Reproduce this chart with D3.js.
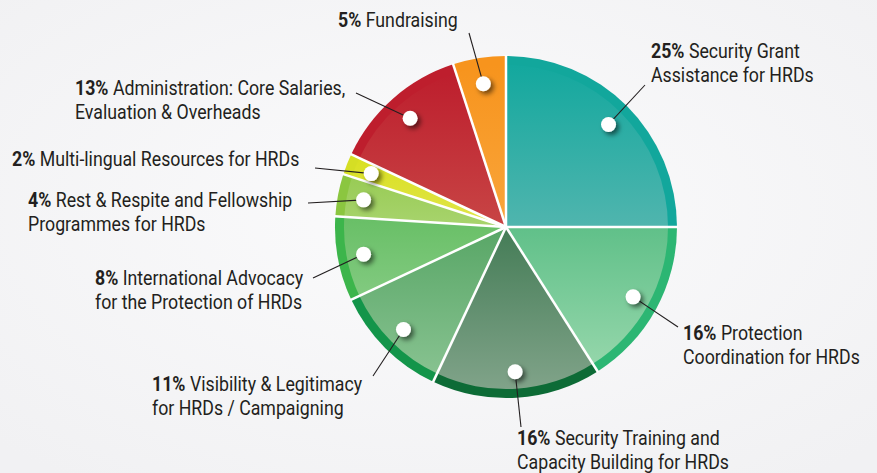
<!DOCTYPE html>
<html>
<head>
<meta charset="utf-8">
<script src="https://cdn.jsdelivr.net/npm/d3@7/dist/d3.min.js"></script>
<style>
  html, body { margin: 0; padding: 0; background: #f6f6f7; }
  svg { display: block; }
  text { font-family: Roboto, "Liberation Sans", sans-serif; fill: #231f20; }
</style>
</head>
<body>
<script>
// slices, clockwise from 12 o'clock
var percents = [25, 16, 16, 11, 8, 4, 2, 13, 5];
var titles = [
    ["Security Grant", "Assistance for HRDs"],
    ["Protection", "Coordination for HRDs"],
    ["Security Training and", "Capacity Building for HRDs"],
    ["Visibility & Legitimacy", "for HRDs / Campaigning"],
    ["International Advocacy", "for the Protection of HRDs"],
    ["Rest & Respite and Fellowship", "Programmes for HRDs"],
    ["Multi-lingual Resources for HRDs"],
    ["Administration: Core Salaries,", "Evaluation & Overheads"],
    ["Fundraising"]
];
var rimColors = ["#12a79c", "#2cb673", "#0d6b36", "#13954a", "#3cb54b", "#8bc640", "#d5de24", "#be1e2d", "#f7941d"];
var topColors = ["#13a89e", "#60c089", "#447c56", "#58a666", "#68bf66", "#98cb55", "#d9e021", "#bd1e2d", "#f7941d"];
var bottomColors = ["#50b5ae", "#94d6aa", "#80a389", "#87c290", "#82ca80", "#a8d46e", "#e1e54c", "#c84545", "#f9a53b"];

// where each label sits (first baseline) and where its leader line ends
var labelPos = [
    {x: 651, y: 58,  lx: 645, ly: 85},
    {x: 683, y: 340, lx: 678, ly: 327},
    {x: 517, y: 445, lx: 521, ly: 427},
    {x: 152, y: 391, lx: 373, ly: 376},
    {x: 95,  y: 285, lx: 313, ly: 278},
    {x: 28,  y: 207, lx: 308, ly: 203},
    {x: 12,  y: 166, lx: 315, ly: 168},
    {x: 75,  y: 95,  lx: 356, ly: 93},
    {x: 338, y: 27,  lx: 469, ly: 33}
];

var width = 877, height = 473;
var cx = 506, cy = 227, radius = 171, rimWidth = 9, dotRadius = 145;

var svg = d3.select("body").append("svg")
    .attr("width", width)
    .attr("height", height);

var defs = svg.append("defs");

var bg = defs.append("radialGradient").attr("id", "bg")
    .attr("cx", "50%").attr("cy", "45%").attr("r", "70%");
bg.append("stop").attr("offset", "0%").attr("stop-color", "#fbfbfc");
bg.append("stop").attr("offset", "100%").attr("stop-color", "#f1f1f3");

svg.append("rect").attr("width", width).attr("height", height).attr("fill", "url(#bg)");

// gradienter per sektor
percents.forEach(function(p, i) {
    var g = defs.append("linearGradient").attr("id", "grad" + i)
        .attr("x1", 0).attr("y1", 0).attr("x2", 0).attr("y2", 1);
    g.append("stop").attr("offset", "0%").attr("stop-color", topColors[i]);
    g.append("stop").attr("offset", "100%").attr("stop-color", bottomColors[i]);
});

var shadow = defs.append("filter").attr("id", "shadow")
    .attr("x", "-100%").attr("y", "-100%").attr("width", "300%").attr("height", "300%");
shadow.append("feDropShadow")
    .attr("dx", 3).attr("dy", 3).attr("stdDeviation", 2.5)
    .attr("flood-color", "#000").attr("flood-opacity", 0.55);

var pie = d3.pie().sort(null).value(function(d) { return d; });
var arcs = pie(percents);

var rimArc = d3.arc().innerRadius(0).outerRadius(radius);
var innerArc = d3.arc().innerRadius(0).outerRadius(radius - rimWidth);
var dotArc = d3.arc().innerRadius(dotRadius).outerRadius(dotRadius);

var pieGroup = svg.append("g").attr("transform", "translate(" + cx + "," + cy + ")");

pieGroup.selectAll("path.rim").data(arcs).enter()
    .append("path")
    .attr("class", "rim")
    .attr("d", rimArc)
    .attr("fill", function(d, i) { return rimColors[i]; });

pieGroup.selectAll("path.inner").data(arcs).enter()
    .append("path")
    .attr("class", "inner")
    .attr("d", innerArc)
    .attr("fill", function(d, i) { return "url(#grad" + i + ")"; });

// vita skiljelinjer
pieGroup.selectAll("line.sep").data(arcs).enter()
    .append("line")
    .attr("class", "sep")
    .attr("x1", 0).attr("y1", 0)
    .attr("x2", function(d) { return Math.sin(d.startAngle) * (radius + 1); })
    .attr("y2", function(d) { return -Math.cos(d.startAngle) * (radius + 1); })
    .attr("stroke", "#fff")
    .attr("stroke-width", 2.5);

// leader lines
svg.selectAll("line.leader").data(arcs).enter()
    .append("line")
    .attr("class", "leader")
    .attr("x1", function(d) { return cx + dotArc.centroid(d)[0]; })
    .attr("y1", function(d) { return cy + dotArc.centroid(d)[1]; })
    .attr("x2", function(d, i) { return labelPos[i].lx; })
    .attr("y2", function(d, i) { return labelPos[i].ly; })
    .attr("stroke", "#231f20")
    .attr("stroke-width", 1.1);

svg.selectAll("circle.dot").data(arcs).enter()
    .append("circle")
    .attr("class", "dot")
    .attr("cx", function(d) { return cx + dotArc.centroid(d)[0]; })
    .attr("cy", function(d) { return cy + dotArc.centroid(d)[1]; })
    .attr("r", 7.5)
    .attr("fill", "#fff")
    .attr("filter", "url(#shadow)");

// etiketter
var labels = svg.selectAll("g.label").data(arcs).enter()
    .append("g")
    .attr("class", "label");

labels.each(function(d, i) {
    var g = d3.select(this);
    titles[i].forEach(function(line, j) {
        var t = g.append("text").attr("x", 0).attr("y", j * 24).attr("font-size", 19.5);
        if (j === 0) {
            t.append("tspan").attr("font-weight", 700).text(percents[i] + "% ");
        }
        t.append("tspan").attr("font-weight", 400).text(line);
    });
});

// smalare typsnitt: skala om horisontellt mot två uppmätta rader
var first = labels.filter(function(d, i) { return i === 0; }).selectAll("text").nodes();
var second = labels.filter(function(d, i) { return i === 1; }).selectAll("text").nodes();
var k = (163 / first[1].getComputedTextLength() + 177 / second[1].getComputedTextLength()) / 2;
labels.attr("transform", function(d, i) {
    return "translate(" + labelPos[i].x + "," + labelPos[i].y + ") scale(" + k + ",1)";
});
</script>
</body>
</html>
